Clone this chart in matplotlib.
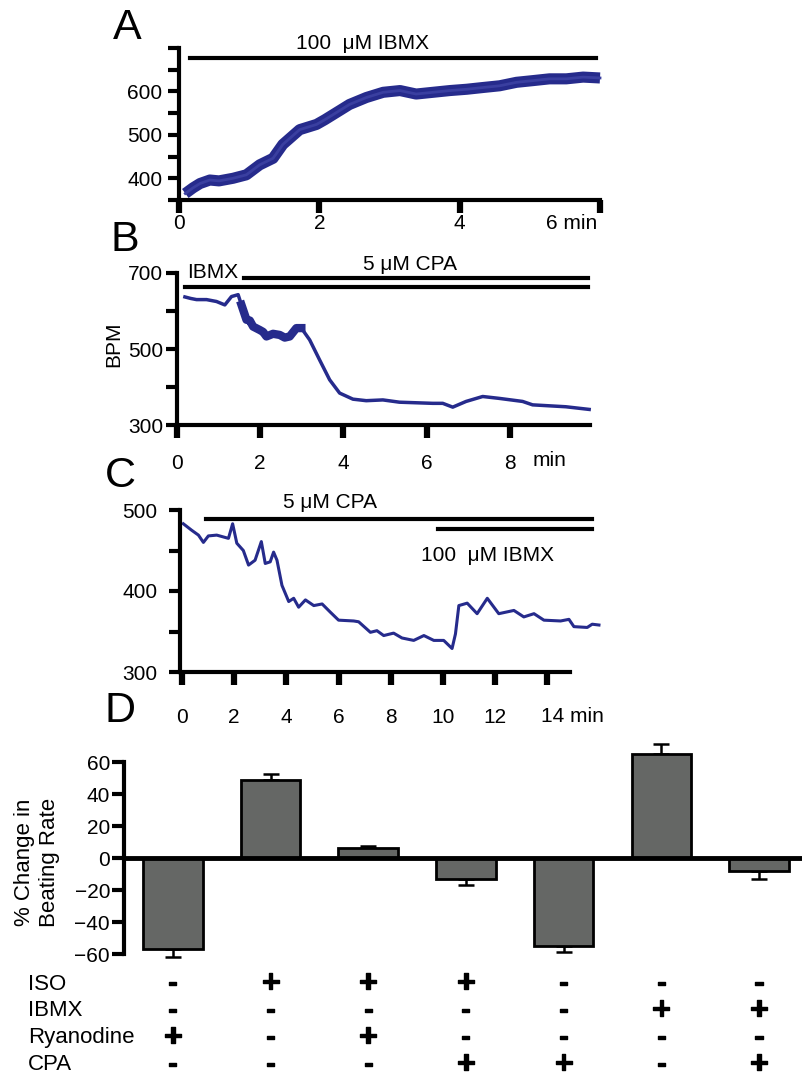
import matplotlib
matplotlib.use("Agg")
import matplotlib.pyplot as plt
import matplotlib.transforms as mtrans
import matplotlib.patheffects as pe
import numpy as np

plt.rcParams['font.family'] = ['Liberation Sans', 'DejaVu Sans']

# ---------------- data ----------------
# Panel A: 100 uM IBMX, beating rate (BPM) vs time (min)
a_time = [0.09, 0.2, 0.3, 0.44, 0.57, 0.77, 0.96, 1.15, 1.34, 1.48, 1.6, 1.72, 1.84, 1.96,
          2.08, 2.2, 2.43, 2.67, 2.91, 3.15, 3.38, 3.62, 3.86, 4.1, 4.33, 4.57, 4.81,
          5.05, 5.28, 5.52, 5.76, 6.0]
a_bpm = [365, 378, 388, 396, 394, 400, 408, 431, 446, 478, 495, 512, 518, 524,
         535, 547, 570, 586, 598, 602, 594, 598, 602, 605, 609, 613, 621,
         625, 629, 629, 633, 631]

# Panel B: IBMX then 5 uM CPA
b_time = [0.19, 0.33, 0.47, 0.71, 0.95, 1.15, 1.31, 1.47, 1.55, 1.67, 1.75, 1.83, 1.99,
          2.07, 2.15, 2.31, 2.47, 2.59, 2.71, 2.87, 2.99, 3.19, 3.43, 3.67, 3.91, 4.23,
          4.55, 4.95, 5.35, 6.15, 6.39, 6.63, 6.95, 7.35, 7.75, 8.31, 8.55, 9.35, 9.91]
b_bpm = [637, 633, 630, 630, 625, 616, 638, 643, 616, 577, 575, 559, 550,
         545, 533, 540, 537, 530, 533, 555, 555, 524, 471, 419, 384, 368,
         364, 366, 360, 357, 357, 347, 362, 375, 370, 362, 353, 348, 341]

# Panel C: 5 uM CPA then 100 uM IBMX
c_time = [0.05, 0.37, 0.63, 0.82, 1.01, 1.33, 1.78, 1.94, 2.1, 2.35, 2.55, 2.8, 3.04,
          3.19, 3.38, 3.51, 3.64, 3.83, 4.09, 4.28, 4.47, 4.73, 5.05, 5.37, 5.68, 6.0,
          6.58, 6.77, 7.22, 7.47, 7.73, 8.11, 8.43, 8.88, 9.27, 9.65, 10.03, 10.35,
          10.48, 10.61, 10.93, 11.31, 11.7, 12.14, 12.72, 13.1, 13.49, 13.87, 14.51,
          14.83, 15.02, 15.53, 15.72, 15.98]
c_bpm = [483, 475, 469, 460, 468, 469, 465, 483, 459, 450, 432, 438, 461,
         434, 436, 448, 438, 407, 387, 391, 380, 389, 382, 384, 374, 364,
         363, 362, 349, 351, 345, 348, 342, 339, 345, 339, 339, 329,
         347, 382, 385, 372, 391, 372, 376, 368, 372, 364, 363,
         365, 356, 355, 359, 358]

# Panel D: % change in beating rate
d_values = [-57, 49, 6, -13, -55, 65, -8]
d_errors = [5, 3.5, 1.2, 3.8, 3.5, 6, 5]
row_labels = ['ISO', 'IBMX', 'Ryanodine', 'CPA']
d_table = [
    ['-', '+', '+', '+', '-', '-', '-'],
    ['-', '-', '-', '-', '-', '+', '+'],
    ['+', '-', '+', '-', '-', '-', '-'],
    ['-', '-', '-', '+', '+', '-', '+'],
]

# ---------------- layout ----------------
W, H = 802, 1079
fig = plt.figure(figsize=(W / 100, H / 100), dpi=100)
TRACE = '#262b8c'
FS = 15


def ax_px(l, t, r, b):
    return fig.add_axes([l / W, 1 - b / H, (r - l) / W, (b - t) / H])


def fx(px):
    return px / W


def fy(py):
    return 1 - py / H


def style(ax, xpad, ypad):
    for s in ['top', 'right']:
        ax.spines[s].set_visible(False)
    for s in ['left', 'bottom']:
        ax.spines[s].set_linewidth(3)
    ax.tick_params(axis='x', length=9, width=4.5, pad=xpad, labelsize=FS)
    ax.tick_params(axis='y', length=8, width=3, pad=ypad, labelsize=FS)
    ax.tick_params(axis='y', which='minor', length=8, width=3)


# Panel letters
for lab, (px, py) in zip('ABCD', [(127, 28), (125, 240), (120, 476), (120, 711)]):
    fig.text(fx(px), fy(py), lab, fontsize=31, ha='center', va='center')

# ---- Panel A ----
axA = ax_px(179, 48, 600, 200)
axA.plot(a_time, a_bpm, color=TRACE, lw=8, solid_capstyle='butt', clip_on=False)
axA.plot(a_time, a_bpm, color='#3a3fa0', lw=2, clip_on=False)
axA.set_xlim(0, 6)
axA.set_ylim(350, 700)
axA.set_xticks([0, 2, 4, 6])
axA.set_xticklabels(['0', '2', '4', ''])
axA.set_yticks([400, 500, 600])
axA.set_yticks(np.arange(350, 701, 50), minor=True)
style(axA, 1, 4)
axA.plot([0.16, 5.95], [677, 677], color='black', lw=3, clip_on=False)
axA.text(2.62, 711, '100  μM IBMX', fontsize=FS, ha='center', va='center')
fig.text(fx(546), fy(224), '6 min', fontsize=FS, ha='left', va='center')

# ---- Panel B ----
axB = ax_px(177, 273, 590, 425)
axB.plot(b_time, b_bpm, color=TRACE, lw=2.5, clip_on=False)
axB.plot(b_time[8:21], b_bpm[8:21], color=TRACE, lw=6, clip_on=False)
axB.set_xlim(0, 9.93)
axB.set_ylim(300, 700)
axB.set_xticks([0, 2, 4, 6, 8])
axB.set_yticks([300, 500, 700])
axB.set_yticks([300, 400, 500, 600, 700], minor=True)
style(axB, 12, 2)
axB.plot([0.19, 9.88], [663, 663], color='black', lw=3, clip_on=False)
axB.plot([1.6, 9.88], [687, 687], color='black', lw=3, clip_on=False)
axB.text(0.87, 702, 'IBMX', fontsize=FS, ha='center', va='center')
axB.text(5.6, 722, '5 μM CPA', fontsize=FS, ha='center', va='center')
fig.text(fx(533), fy(460), 'min', fontsize=FS, ha='left', va='center')
fig.text(fx(114), fy(344), 'BPM', fontsize=FS, ha='center', va='center', rotation=90)

# ---- Panel C ----
axC = ax_px(180, 510, 570, 672)
axC.plot(c_time, c_bpm, color=TRACE, lw=2.2, clip_on=False)
axC.set_xlim(-0.077, 14.87)
axC.set_ylim(300, 500)
axC.set_xticks(np.arange(0, 15, 2))
axC.set_xticklabels(['0', '2', '4', '6', '8', '10', '12', ''])
axC.set_yticks([300, 400, 500])
axC.set_yticks([300, 350, 400, 450, 500], minor=True)
style(axC, 17, 8)
axC.plot([0.92, 15.7], [489, 489], color='black', lw=3, clip_on=False)
axC.plot([9.8, 15.7], [476.5, 476.5], color='black', lw=3, clip_on=False)
axC.text(5.67, 509, '5 μM CPA', fontsize=FS, ha='center', va='center')
axC.text(11.7, 444, '100  μM IBMX', fontsize=FS, ha='center', va='center')
fig.text(fx(541), fy(717), '14 min', fontsize=FS, ha='left', va='center')

# ---- Panel D ----
axD = ax_px(124, 762, 802, 954)
pos = np.arange(1, len(d_values) + 1)
bars = axD.bar(pos, d_values, width=0.61, color='#656765', edgecolor='black', lw=2, zorder=2)
for b in bars:
    b.set_clip_on(False)
lower = [e if v < 0 else 0 for v, e in zip(d_values, d_errors)]
upper = [e if v >= 0 else 0 for v, e in zip(d_values, d_errors)]
eb = axD.errorbar(pos, d_values, yerr=[lower, upper], fmt='none', ecolor='black',
                  elinewidth=1.8, capsize=6, capthick=1.8, zorder=1)
for art in eb.lines[1] + eb.lines[2]:
    art.set_clip_on(False)
axD.axhline(0, color='black', lw=3.5, zorder=3, clip_on=False)
axD.set_xlim(0.5, 7.44)
axD.set_ylim(-60, 60)
axD.set_yticks(np.arange(-60, 61, 20))
for s in ['top', 'right', 'bottom']:
    axD.spines[s].set_visible(False)
axD.spines['left'].set_linewidth(3)
axD.set_xticks([])
axD.tick_params(axis='y', length=9, width=3, pad=1, labelsize=15)
fig.text(fx(37), fy(862), '% Change in\nBeating Rate', fontsize=16, ha='center',
         va='center', rotation=90, linespacing=1.2)

trD = mtrans.blended_transform_factory(axD.transData, fig.transFigure)
row_y = [984, 1011, 1038, 1065]
thick = [pe.withStroke(linewidth=1.0, foreground='black')]
for lab, ry, signs in zip(row_labels, row_y, d_table):
    fig.text(fx(28), fy(ry), lab, fontsize=16, ha='left', va='center')
    for p, sgn in zip(pos, signs):
        axD.text(p, fy(ry), sgn, transform=trD, fontsize=23 if sgn == '+' else 20,
                 fontweight='bold', ha='center', va='center', path_effects=thick)

fig.savefig('out.png', dpi=100)
